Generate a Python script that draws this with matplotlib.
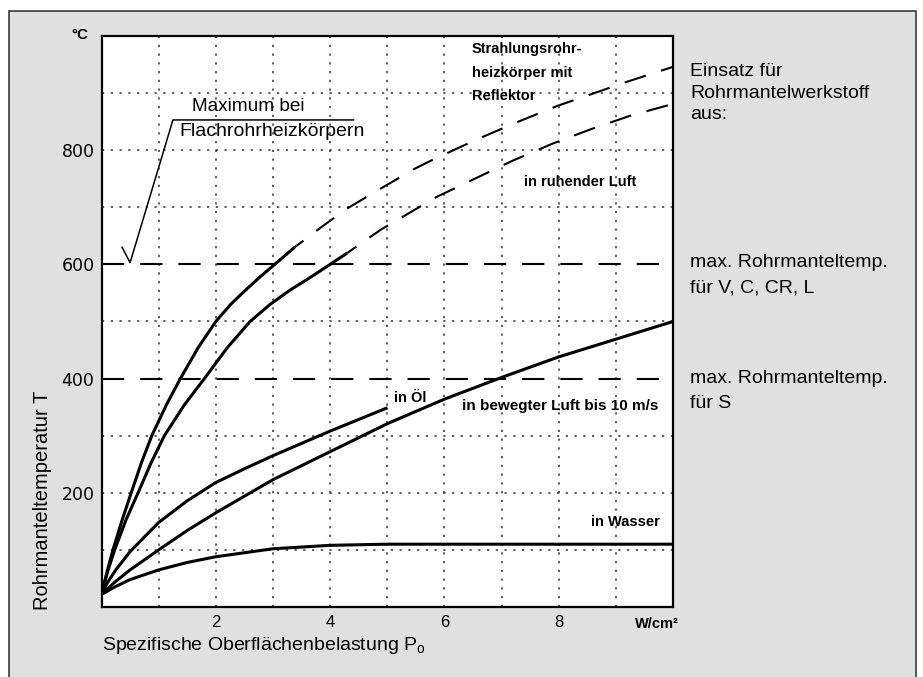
#!/usr/bin/env python3

# Rohrmanteltemperatur von Rohrheizkörpern über der spezifischen
# Oberflächenbelastung, für verschiedene Umgebungsmedien.

import matplotlib
matplotlib.use('Agg')
import matplotlib.pyplot as plt
from matplotlib.patches import Rectangle

# Strahlungsrohrheizkörper mit Reflektor
reflector_load = [0, 0.1, 0.2, 0.36, 0.52, 0.7, 0.88, 1.13, 1.38, 1.69, 2.0, 2.26,
                  2.5, 2.75, 3.03, 3.38, 3.87, 4.3, 4.77, 5.47, 5.77, 6.57, 7.27,
                  7.96, 9.17, 10.0]
reflector_temp = [22, 63, 100, 152, 200, 253, 300, 353, 400, 454, 500, 530,
                  553, 576, 600, 630, 667, 698, 726, 767, 782, 819, 849,
                  877, 919, 946]

# in ruhender Luft
still_air_load = [0, 0.11, 0.23, 0.43, 0.64, 0.87, 1.1, 1.45, 1.8, 2.2, 2.6, 2.95,
                  3.3, 3.65, 4.0, 4.3, 4.89, 5.86, 6.51, 7.18, 7.88, 8.57, 9.27, 10.0]
still_air_temp = [22, 63, 100, 153, 200, 253, 300, 354, 400, 454, 500, 530,
                  555, 577, 600, 620, 661, 718, 749, 781, 811, 837, 861, 881]

# in Öl
oil_load = [0, 0.1, 0.25, 0.5, 1, 1.5, 2, 2.5, 3, 4, 4.98]
oil_temp = [22, 42, 65, 97, 148, 186, 218, 242, 265, 308, 348]

# in bewegter Luft bis 10 m/s
moving_air_load = [0, 0.25, 0.5, 1, 1.5, 2, 3, 4, 5, 6, 7, 8, 9, 10]
moving_air_temp = [22, 45, 65, 100, 134, 165, 223, 272, 321, 364, 402, 438, 469, 500]

# in Wasser
water_load = [0, 0.25, 0.5, 1, 1.5, 2, 3, 4, 5, 10]
water_temp = [22, 36, 48, 65, 78, 88, 102, 108, 110, 110]

# Grenztemperaturen der Rohrmantelwerkstoffe
limit_temps = [600, 400]

# Hinweislinie "Maximum bei Flachrohrheizkörpern"
leader_x = [0.36, 0.5, 1.25, 4.41]
leader_y = [630, 603, 853, 853]

x_ticks = [2, 4, 6, 8]
y_ticks = [200, 400, 600, 800]

SANS = ['Liberation Sans', 'DejaVu Sans']
LONG_DASH = (0, (16, 11.5))
DOTS = (0, (1.6, 4.7))


def split_curve(xs, ys, limit):
    """Split a curve into the measured (solid) and extrapolated (dashed) part"""
    n = sum(1 for y in ys if y <= limit)
    return (xs[:n], ys[:n]), (xs[n - 1:], ys[n - 1:])


def main(output):
    plt.rcParams['lines.scale_dashes'] = False
    plt.rcParams['mathtext.fontset'] = 'custom'
    plt.rcParams['mathtext.rm'] = 'Liberation Sans'
    plt.rcParams['mathtext.it'] = 'Liberation Sans'

    fig = plt.figure(figsize=(9.23, 6.77), dpi=100)
    fig.patch.set_facecolor('white')
    fig.patches.append(Rectangle((9 / 923, -0.01), 907 / 923, 1 - 11 / 677 + 0.01,
                                 transform=fig.transFigure, facecolor='#e0e0e0',
                                 edgecolor='#3a3a3a', linewidth=1.2, zorder=-1))

    ax = fig.add_axes([101.5 / 923, 1 - 607 / 677, 571.5 / 923, 571 / 677])
    ax.set_xlim(0, 10)
    ax.set_ylim(0, 1000)
    ax.set_facecolor('white')
    for spine in ax.spines.values():
        spine.set_linewidth(1.6)

    # dotted grid, the limit temperatures get their own dashed lines
    for x in range(1, 10):
        ax.axvline(x, color='#333333', linewidth=1.1, linestyle=DOTS, zorder=1)
    for y in range(100, 1000, 100):
        if y not in limit_temps:
            ax.axhline(y, color='#333333', linewidth=1.1, linestyle=DOTS, zorder=1)
    for y in limit_temps:
        ax.axhline(y, color='black', linewidth=1.5, linestyle=LONG_DASH, zorder=2)

    for xs, ys in [(reflector_load, reflector_temp), (still_air_load, still_air_temp)]:
        solid, dashed = split_curve(xs, ys, 630)
        ax.plot(*solid, color='black', linewidth=2.2, solid_joinstyle='round',
                solid_capstyle='butt', zorder=3)
        ax.plot(*dashed, color='black', linewidth=1.5, linestyle=(8, (16, 11.5)), zorder=3)

    for xs, ys in [(oil_load, oil_temp), (moving_air_load, moving_air_temp),
                   (water_load, water_temp)]:
        ax.plot(xs, ys, color='black', linewidth=2.2, solid_joinstyle='round', zorder=3)

    ax.plot(leader_x, leader_y, color='black', linewidth=1.1, zorder=3)
    ax.text(1.58, 876, 'Maximum bei', family=SANS, fontsize=13.7, va='center')
    ax.text(1.37, 832, 'Flachrohrheizkörpern', family=SANS, fontsize=14, va='center')

    # curve labels inside the plot
    label = dict(family=SANS, fontsize=10.5, fontweight='bold', va='center')
    ax.text(6.48, 978, 'Strahlungsrohr-', **label)
    ax.text(6.48, 936, 'heizkörper mit', **label)
    ax.text(6.48, 895, 'Reflektor', **label)
    ax.text(8.37, 744, 'in ruhender Luft', ha='center', **label)
    ax.text(5.12, 366, 'in Öl', **label)
    ax.text(6.3, 352, 'in bewegter Luft bis 10 m/s', **dict(label, fontsize=11))
    ax.text(9.77, 148, 'in Wasser', ha='right', **label)

    # notes right of the plot
    note = dict(family=SANS, fontsize=14, va='center', clip_on=False)
    ax.text(10.3, 938, 'Einsatz für', **note)
    ax.text(10.3, 899, 'Rohrmantelwerkstoff', **note)
    ax.text(10.3, 862, 'aus:', **note)
    ax.text(10.3, 603, 'max. Rohrmanteltemp.', **note)
    ax.text(10.3, 558, 'für V, C, CR, L', **note)
    ax.text(10.3, 400, 'max. Rohrmanteltemp.', **note)
    ax.text(10.3, 356, 'für S', **note)

    # axes
    ax.set_xticks(x_ticks)
    ax.set_yticks(y_ticks)
    ax.tick_params(length=0)
    ax.tick_params(axis='x', pad=6, labelsize=12)
    ax.tick_params(axis='y', pad=5, labelsize=12.5)
    for lbl in ax.get_xticklabels():
        lbl.set_family('Liberation Sans')
    ax.text(-0.38, 1001, '°C', family=SANS, fontsize=11, fontweight='bold',
            ha='center', va='center')
    ax.text(9.71, -29, 'W/cm²', family=SANS, fontsize=10.5, fontweight='bold',
            ha='center', va='center')
    ax.text(0, -67, r'Spezifische Oberflächenbelastung $\mathrm{P_o}$', family=SANS,
            fontsize=14, ha='left', va='center')
    ax.text(-1.04, -6, 'Rohrmanteltemperatur T', family=SANS, fontsize=14.5,
            rotation=90, ha='center', va='bottom')

    plt.savefig(output, dpi=100)


if __name__ == '__main__':
    main('out.png')
